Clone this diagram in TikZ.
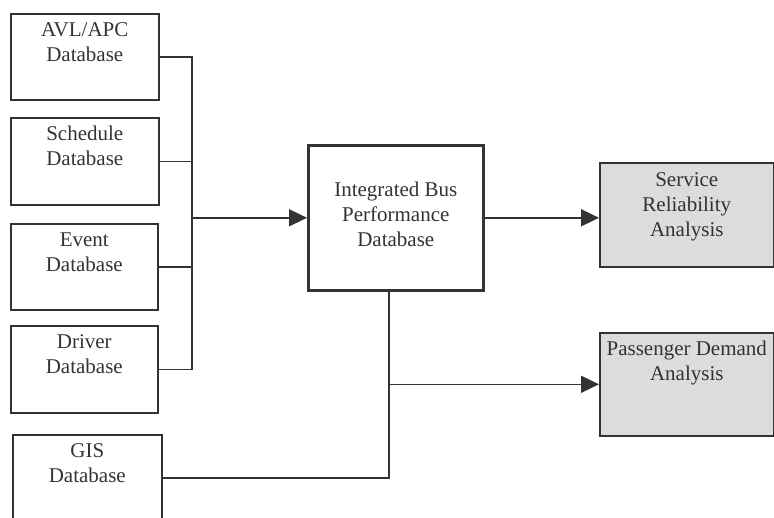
\documentclass[tikz,border=0pt]{standalone}
\usepackage{fontspec}
\setmainfont{Liberation Serif}
\usetikzlibrary{arrows.meta}
\definecolor{ink}{HTML}{333333}
\definecolor{fillgray}{HTML}{DCDCDC}
\newcommand{\boxtxt}[4]{\parbox[c][#2pt][t]{#1pt}{\centering\vspace*{#3pt}\strut #4\par}}
\begin{document}
\begin{tikzpicture}[x=1pt,y=-1pt,
  box/.style={draw=ink,line width=1.6pt,inner sep=0pt,anchor=north west,text=ink,
    font=\fontsize{21}{25}\selectfont},
  mainbox/.style={box,line width=2.6pt},
  outbox/.style={box,fill=fillgray},
  conn/.style={draw=ink,line width=1.6pt},
  arr/.style={conn,-{Triangle[length=18pt,width=17pt]}}]
\useasboundingbox (0,0) rectangle (774,517);
\clip (0,0) rectangle (774,517);
\node[box] (avl) at (10,13) {\boxtxt{148}{86}{5.5}{AVL/APC\\Database}};
\node[box] (sch) at (10,117) {\boxtxt{148}{87}{5.5}{Schedule\\Database}};
\node[box] (evt) at (10,223) {\boxtxt{147}{86}{5.5}{Event\\Database}};
\node[box] (drv) at (10,325) {\boxtxt{147}{87}{5.5}{Driver\\Database}};
\node[box] (gis) at (12,434) {\boxtxt{149}{86}{5.5}{GIS\\Database}};
\node[mainbox] (ibp) at (307,144) {\boxtxt{175}{145}{33.5}{Integrated Bus\\Performance\\Database}};
\node[outbox] (srv) at (599,162) {\boxtxt{174}{104}{6.5}{Service\\Reliability\\Analysis}};
\node[outbox] (psg) at (599,332) {\boxtxt{174}{103}{5.5}{Passenger Demand\\Analysis}};
\coordinate (bx) at (192,0);
\coordinate (jx) at (389,0);
\draw[conn] (avl.east) -| (bx |- drv.east) -- (drv.east);
\draw[conn] (sch.east) -- (sch.east -| bx);
\draw[conn] (evt.east) -- (evt.east -| bx);
\draw[arr] (bx |- ibp.west) -- (ibp.west);
\draw[arr] (ibp.east) -- (ibp.east -| srv.west);
\draw[conn] (ibp.south -| jx) -- (jx |- gis.east) -- (gis.east);
\draw[arr] (jx |- psg.west) -- (psg.west);
\end{tikzpicture}
\end{document}
